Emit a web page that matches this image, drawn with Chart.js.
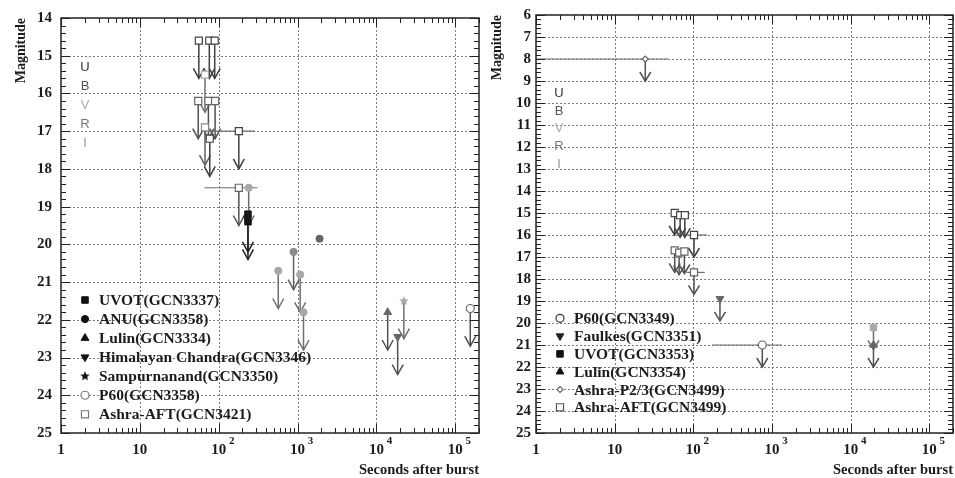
<!DOCTYPE html>
<html>
<head>
<meta charset="utf-8">
<script src="https://cdn.jsdelivr.net/npm/chart.js@4/dist/chart.umd.min.js"></script>
<style>
body { margin: 0; background: #fff; }
#wrap { position: relative; width: 955px; height: 478px; }
canvas { position: absolute; top: 0; }
#left { left: 0; width: 480px; height: 478px; }
#right { left: 480px; width: 475px; height: 478px; }
</style>
</head>
<body>
<div id="wrap">
<canvas id="left" width="480" height="478"></canvas>
<canvas id="right" width="475" height="478"></canvas>
</div>
<script>
// ---- data: seconds after burst, magnitude, filter band, upper limit flag ----
const bands = ['U', 'B', 'V', 'R', 'I'];

// left panel
const lUvotT = [235, 235];
const lUvotMag = [19.2, 19.4];
const lUvotBand = ['U', 'U'];
const lUvotUL = [1, 1];

const lAnuT = [240, 569, 890, 1080, 1190, 1900];
const lAnuMag = [18.5, 20.7, 20.2, 20.8, 21.8, 19.85];
const lAnuBand = ['V', 'V', 'I', 'V', 'V', 'R'];
const lAnuUL = [1, 1, 1, 1, 1, 0];

const lLulinT = [13900];
const lLulinMag = [21.8];
const lLulinBand = ['R'];
const lLulinUL = [1];

const lHimT = [18600];
const lHimMag = [22.45];
const lHimBand = ['R'];
const lHimUL = [1];

const lSampT = [232, 22300];
const lSampMag = [19.3, 21.5];
const lSampBand = ['U', 'V'];
const lSampUL = [0, 1];

const lP60T = [155000];
const lP60Mag = [21.7];
const lP60Band = ['R'];
const lP60UL = [1];

const lAftT = [56, 76, 89, 67, 55, 74, 90, 67, 77, 180, 180];
const lAftMag = [14.6, 14.6, 14.6, 15.5, 16.2, 16.2, 16.2, 16.9, 17.2, 17.0, 18.5];
const lAftBand = ['B', 'B', 'B', 'V', 'R', 'R', 'R', 'I', 'B', 'B', 'R'];
const lAftUL = [1, 1, 1, 1, 1, 1, 1, 1, 1, 1, 1];
const lAftLo = [null, null, null, null, null, null, null, null, null, 75, 66];
const lAftHi = [null, null, null, null, null, null, null, null, null, 290, 310];

// right panel
const rP60T = [753];
const rP60Mag = [21.0];
const rP60Band = ['R'];
const rP60UL = [1];
const rP60Lo = [174];
const rP60Hi = [1340];

const rFaulkesT = [218];
const rFaulkesMag = [18.9];
const rFaulkesBand = ['R'];
const rFaulkesUL = [1];

const rUvotT = [19500];
const rUvotMag = [20.2];
const rUvotBand = ['V'];
const rUvotUL = [1];

const rLulinT = [19500];
const rLulinMag = [21.0];
const rLulinBand = ['R'];
const rLulinUL = [1];

const rP23T = [24.5];
const rP23Mag = [8.0];
const rP23Band = ['R'];
const rP23UL = [1];
const rP23Lo = [1];
const rP23Hi = [48];

const rAftT = [58, 68, 78, 102, 58, 66, 77, 102];
const rAftMag = [15.0, 15.1, 15.1, 16.0, 16.7, 16.8, 16.75, 17.7];
const rAftBand = ['B', 'B', 'B', 'B', 'R', 'R', 'R', 'R'];
const rAftUL = [1, 1, 1, 1, 1, 1, 1, 1];
const rAftLo = [null, null, null, 82, null, null, null, 82];
const rAftHi = [null, null, null, 150, null, null, null, 140];

// ---- styles ----
const COLORS = { U: '#151515', B: '#444444', V: '#a8a8a8', R: '#666666', I: '#8a8a8a' };
const ARROW = { U: '#222222', B: '#404040', V: '#6e6e6e', R: '#505050', I: '#606060' };
const LABEL_COLORS = { U: '#333333', B: '#555555', V: '#aaaaaa', R: '#777777', I: '#999999' };
const SERIF = '"Liberation Serif", "DejaVu Serif", serif';

const starCache = {};
function starImg(color, r) {
  const key = color + r;
  if (starCache[key]) return starCache[key];
  const c = document.createElement('canvas');
  c.width = c.height = 2 * r + 2;
  const g = c.getContext('2d');
  g.fillStyle = color;
  g.beginPath();
  for (let i = 0; i < 10; i++) {
    const a = -Math.PI / 2 + i * Math.PI / 5;
    const rr = i % 2 ? r * 0.45 : r;
    g.lineTo(r + 1 + rr * Math.cos(a), r + 1 + rr * Math.sin(a));
  }
  g.closePath();
  g.fill();
  starCache[key] = c;
  return c;
}

const LOOK = {
  uvot: { style: 'rect', r: 4.6 },
  anu: { style: 'circle', r: 3.6 },
  lulin: { style: 'triangle', r: 4.5 },
  down: { style: 'triangle', r: 4.5, rot: 180 },
  samp: { star: true, r: 5 },
  p60: { style: 'circle', r: 4, open: true },
  aft: { style: 'rect', r: 5, open: true },
  p23: { style: 'rectRot', r: 3, open: true }
};

function series(label, t, mag, band, ul, look, legendColor, lo, hi) {
  const b = i => band[i] !== undefined ? band[i] : band[0];
  return {
    label: label,
    data: t.map((x, i) => ({ x: x, y: mag[i] })),
    band: band, ul: ul, xlo: lo || [], xhi: hi || [],
    look: look, legendColor: legendColor,
    pointRadius: look.r,
    pointHoverRadius: look.r,
    pointRotation: look.rot || 0,
    pointBorderWidth: look.open ? 1.2 : 1,
    pointStyle: look.star ? (c => starImg(COLORS[b(c.dataIndex)], look.r)) : look.style,
    pointBackgroundColor: c => look.open ? '#ffffff' : COLORS[b(c.dataIndex)],
    pointBorderColor: c => COLORS[b(c.dataIndex)],
    showLine: false
  };
}

function line(ctx, x1, y1, x2, y2) {
  ctx.beginPath();
  ctx.moveTo(x1, y1);
  ctx.lineTo(x2, y2);
  ctx.stroke();
}

const panelPlugin = {
  id: 'panel',
  beforeDatasetsDraw(chart) {
    const { ctx, chartArea: a, scales: { x, y } } = chart;
    const o = chart.options.plugins.panel;
    ctx.save();
    // dotted grid at the major ticks
    ctx.strokeStyle = '#7a7a7a';
    ctx.lineWidth = 1;
    ctx.setLineDash([2, 2]);
    for (let d = 1; d <= 5; d++) {
      const px = Math.round(x.getPixelForValue(10 ** d)) + 0.5;
      line(ctx, px, a.top, px, a.bottom);
    }
    for (let m = y.min + 1; m < y.max; m++) {
      const py = Math.round(y.getPixelForValue(m)) + 0.5;
      line(ctx, a.left, py, a.right, py);
    }
    ctx.setLineDash([]);
    // horizontal time bins and upper-limit arrows
    chart.data.datasets.forEach((ds, i) => {
      const meta = chart.getDatasetMeta(i);
      meta.data.forEach((pt, j) => {
        const band = ds.band[j] || ds.band[0];
        if (ds.xlo[j] != null) {
          ctx.strokeStyle = '#6e6e6e';
          ctx.lineWidth = 1.2;
          line(ctx, x.getPixelForValue(ds.xlo[j]), pt.y, x.getPixelForValue(ds.xhi[j]), pt.y);
        }
        if (ds.ul[j]) {
          const y2 = y.getPixelForValue(ds.data[j].y + 1);
          ctx.strokeStyle = ARROW[band];
          ctx.lineWidth = 1.5;
          line(ctx, pt.x, pt.y, pt.x, y2);
          ctx.beginPath();
          ctx.moveTo(pt.x - 5.5, y2 - o.head);
          ctx.lineTo(pt.x, y2);
          ctx.lineTo(pt.x + 5.5, y2 - o.head);
          ctx.stroke();
        }
      });
    });
    ctx.restore();
  },
  afterDatasetsDraw(chart) {
    const { ctx, chartArea: a, scales: { x, y } } = chart;
    const o = chart.options.plugins.panel;
    ctx.save();
    // inward tick marks on all four sides
    ctx.strokeStyle = '#222';
    ctx.lineWidth = 1;
    const steps = Math.round((y.max - y.min) / o.minorY);
    for (let k = 0; k <= steps; k++) {
      const m = y.min + k * o.minorY;
      const major = Math.abs(m - Math.round(m)) < 1e-6;
      const len = major ? 9 : 5;
      const py = Math.round(y.getPixelForValue(m)) + 0.5;
      line(ctx, a.left, py, a.left + len, py);
      line(ctx, a.right, py, a.right - len, py);
    }
    for (let d = 0; d <= 5; d++) {
      for (let k = 1; k <= 9; k++) {
        const v = k * 10 ** d;
        if (v > x.max) continue;
        const len = k === 1 ? 9 : 5;
        const px = Math.round(x.getPixelForValue(v)) + 0.5;
        line(ctx, px, a.bottom, px, a.bottom - len);
        line(ctx, px, a.top, px, a.top + len);
      }
    }
    // frame
    ctx.lineWidth = 1.5;
    ctx.strokeStyle = '#222';
    ctx.strokeRect(a.left, a.top, a.right - a.left, a.bottom - a.top);

    // x tick labels: 1, 10, 10^2 ...
    ctx.fillStyle = '#1c1c1c';
    ctx.textBaseline = 'middle';
    ctx.textAlign = 'center';
    for (let d = 0; d <= 5; d++) {
      const px = x.getPixelForValue(10 ** d);
      ctx.font = 'bold 15px ' + SERIF;
      if (d < 2) {
        ctx.fillText(String(10 ** d), px, a.bottom + 17);
      } else {
        ctx.fillText('10', px, a.bottom + 17);
        ctx.font = 'bold 11px ' + SERIF;
        ctx.fillText(String(d), px + 13, a.bottom + 8);
      }
    }
    // axis titles
    ctx.font = 'bold 14.5px ' + SERIF;
    ctx.textAlign = 'right';
    ctx.fillText('Seconds after burst', a.right, 470);
    ctx.save();
    ctx.translate(o.titleX, a.top);
    ctx.rotate(-Math.PI / 2);
    ctx.textAlign = 'right';
    ctx.font = 'bold 14px ' + SERIF;
    ctx.fillText('Magnitude', 0, 0);
    ctx.restore();

    // filter labels
    ctx.font = '13px "Liberation Sans", Arial, sans-serif';
    ctx.textAlign = 'center';
    bands.forEach((b, i) => {
      ctx.fillStyle = LABEL_COLORS[b];
      ctx.fillText(b, a.left + o.bandDx, o.bandY0 + i * o.bandDy);
    });

    // legend
    chart.data.datasets.forEach((ds, i) => {
      const ly = o.legY0 + i * o.legDy;
      const lx = a.left + 24;
      const lk = ds.look;
      ctx.fillStyle = lk.open ? '#ffffff' : ds.legendColor;
      ctx.strokeStyle = ds.legendColor;
      ctx.lineWidth = lk.open ? 1.2 : 1;
      const style = lk.star ? starImg(ds.legendColor, lk.r) : lk.style;
      Chart.helpers.drawPoint(ctx, { pointStyle: style, radius: lk.r, rotation: lk.rot || 0, borderWidth: ctx.lineWidth }, lx, ly);
      ctx.fillStyle = '#1c1c1c';
      ctx.textAlign = 'left';
      ctx.font = 'bold 15.5px ' + SERIF;
      ctx.fillText(ds.label, a.left + 38, ly + 1);
    });
    ctx.restore();
  }
};

function makePanel(id, datasets, cfg) {
  return new Chart(document.getElementById(id), {
    type: 'scatter',
    data: { datasets: datasets },
    plugins: [panelPlugin],
    options: {
      responsive: false,
      animation: false,
      events: [],
      layout: { autoPadding: false, padding: { top: 15, right: cfg.padRight, left: 0, bottom: 0 } },
      scales: {
        x: {
          type: 'logarithmic',
          min: 1,
          max: 2e5,
          grid: { display: false, drawTicks: false },
          border: { display: false },
          ticks: { display: false },
          afterFit: s => { s.height = 45; }
        },
        y: {
          reverse: true,
          min: cfg.yMin,
          max: cfg.yMax,
          grid: { display: false, drawTicks: false },
          border: { display: false },
          ticks: {
            stepSize: 1,
            autoSkip: false,
            padding: cfg.yPad,
            color: '#1c1c1c',
            font: { family: SERIF, weight: 'bold', size: 15 }
          },
          afterFit: s => { s.width = cfg.yWidth; }
        }
      },
      plugins: {
        legend: { display: false },
        tooltip: { enabled: false },
        panel: cfg.panel
      }
    }
  });
}

makePanel('left', [
  series('UVOT(GCN3337)', lUvotT, lUvotMag, lUvotBand, lUvotUL, LOOK.uvot, '#111'),
  series('ANU(GCN3358)', lAnuT, lAnuMag, lAnuBand, lAnuUL, LOOK.anu, '#111'),
  series('Lulin(GCN3334)', lLulinT, lLulinMag, lLulinBand, lLulinUL, LOOK.lulin, '#111'),
  series('Himalayan Chandra(GCN3346)', lHimT, lHimMag, lHimBand, lHimUL, LOOK.down, '#111'),
  series('Sampurnanand(GCN3350)', lSampT, lSampMag, lSampBand, lSampUL, LOOK.samp, '#111'),
  series('P60(GCN3358)', lP60T, lP60Mag, lP60Band, lP60UL, LOOK.p60, '#777'),
  series('Ashra-AFT(GCN3421)', lAftT, lAftMag, lAftBand, lAftUL, LOOK.aft, '#777', lAftLo, lAftHi)
], {
  yMin: 14, yMax: 25, yWidth: 61, yPad: 9, padRight: 1,
  panel: { minorY: 0.2, head: 10, titleX: 21, bandDx: 24, bandY0: 67, bandDy: 19.15, legY0: 300, legDy: 19.05 }
});

makePanel('right', [
  series('P60(GCN3349)', rP60T, rP60Mag, rP60Band, rP60UL, LOOK.p60, '#333', rP60Lo, rP60Hi),
  series('Faulkes(GCN3351)', rFaulkesT, rFaulkesMag, rFaulkesBand, rFaulkesUL, LOOK.down, '#222'),
  series('UVOT(GCN3353)', rUvotT, rUvotMag, rUvotBand, rUvotUL, LOOK.uvot, '#111'),
  series('Lulin(GCN3354)', rLulinT, rLulinMag, rLulinBand, rLulinUL, LOOK.lulin, '#111'),
  series('Ashra-P2/3(GCN3499)', rP23T, rP23Mag, rP23Band, rP23UL, LOOK.p23, '#666', rP23Lo, rP23Hi),
  series('Ashra-AFT(GCN3499)', rAftT, rAftMag, rAftBand, rAftUL, LOOK.aft, '#555', rAftLo, rAftHi)
], {
  yMin: 6, yMax: 25, yWidth: 56, yPad: 5, padRight: 2,
  panel: { minorY: 0.2, head: 9, titleX: 17, bandDx: 23, bandY0: 93.5, bandDy: 17.7, legY0: 318.3, legDy: 17.8 }
});
</script>
</body>
</html>
